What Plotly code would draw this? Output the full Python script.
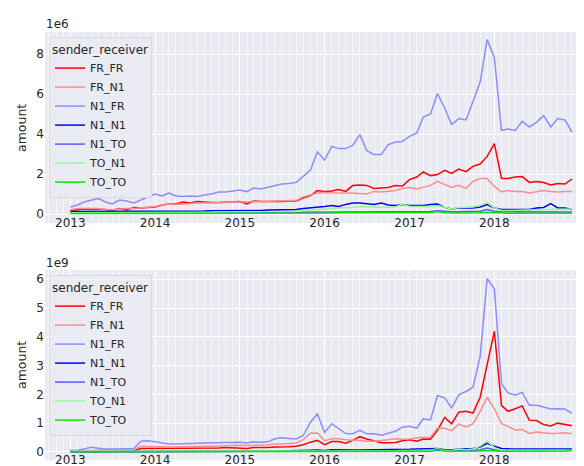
import pandas as pd
import plotly.graph_objects as go

months = pd.date_range("2013-01-01", periods=72, freq="MS")
series_names = ["FR_FR", "FR_N1", "N1_FR", "N1_N1", "N1_TO", "TO_N1", "TO_TO"]
series_colors = ["#ff0000", "#ff8c8c", "#8c8cff", "#0000ff", "#5a5aff", "#8cff8c", "#00e600"]

# ---- top panel (x 1e6) ----
FR_FR_top = [0.18,0.2,0.25,0.23,0.25,0.22,0.18,0.27,0.2,0.33,0.3,0.33,
             0.35,0.45,0.5,0.5,0.6,0.55,0.63,0.6,0.57,0.58,0.6,0.6,
             0.62,0.5,0.65,0.63,0.62,0.63,0.63,0.65,0.65,0.8,0.92,1.17,
             1.12,1.15,1.22,1.13,1.42,1.45,1.43,1.28,1.3,1.33,1.42,1.4,
             1.72,1.85,2.1,1.92,1.97,2.18,2.03,2.25,2.12,2.38,2.5,2.88,
             3.52,1.78,1.78,1.85,1.87,1.58,1.62,1.57,1.45,1.52,1.5,1.75]
FR_N1_top = [0.2,0.27,0.28,0.28,0.27,0.22,0.2,0.25,0.28,0.27,0.3,0.33,
             0.37,0.45,0.5,0.48,0.5,0.55,0.55,0.55,0.55,0.57,0.58,0.6,
             0.6,0.6,0.62,0.6,0.62,0.65,0.65,0.67,0.67,0.85,0.97,1.05,
             1.08,1.05,1.05,1.05,1.02,1.02,1.0,1.13,1.1,1.13,1.18,1.27,
             1.33,1.25,1.33,1.43,1.63,1.47,1.33,1.43,1.28,1.63,1.77,1.77,
             1.38,1.1,1.18,1.13,1.12,1.05,1.13,1.18,1.13,1.1,1.13,1.13]
N1_FR_top = [0.35,0.45,0.6,0.7,0.78,0.6,0.5,0.7,0.65,0.55,0.7,0.85,
             1.0,0.9,1.05,0.9,0.88,0.9,0.87,0.95,1.0,1.1,1.1,1.15,
             1.2,1.12,1.3,1.25,1.33,1.43,1.5,1.53,1.58,1.88,2.2,3.1,
             2.7,3.38,3.27,3.27,3.43,3.97,3.17,2.97,2.97,3.47,3.6,3.63,
             3.88,4.05,4.85,5.0,6.02,5.3,4.47,4.77,4.7,5.63,6.6,8.72,
             7.83,4.18,4.25,4.18,4.63,4.35,4.58,4.92,4.35,4.77,4.7,4.1]
N1_N1_top = [0.12,0.12,0.13,0.13,0.13,0.13,0.12,0.13,0.13,0.14,0.14,0.15,
             0.15,0.15,0.15,0.14,0.13,0.14,0.15,0.15,0.16,0.16,0.17,0.17,
             0.17,0.17,0.18,0.18,0.2,0.2,0.2,0.2,0.22,0.27,0.3,0.35,
             0.38,0.43,0.38,0.48,0.55,0.55,0.5,0.47,0.55,0.45,0.43,0.47,
             0.43,0.43,0.43,0.47,0.5,0.33,0.25,0.3,0.3,0.3,0.35,0.47,
             0.3,0.22,0.22,0.22,0.22,0.22,0.3,0.33,0.52,0.3,0.3,0.22]
N1_TO_top = [0.05,0.05,0.05,0.05,0.05,0.05,0.05,0.05,0.06,0.06,0.06,0.06,
             0.06,0.06,0.06,0.06,0.06,0.06,0.07,0.07,0.07,0.07,0.07,0.07,
             0.07,0.07,0.07,0.08,0.08,0.08,0.08,0.08,0.08,0.09,0.09,0.1,
             0.1,0.1,0.1,0.1,0.11,0.11,0.11,0.11,0.11,0.12,0.12,0.12,
             0.12,0.12,0.12,0.12,0.16,0.12,0.11,0.11,0.12,0.12,0.14,0.22,
             0.14,0.11,0.11,0.11,0.11,0.11,0.11,0.11,0.12,0.12,0.12,0.1]
TO_N1_top = [0.06,0.06,0.06,0.07,0.07,0.07,0.07,0.07,0.07,0.08,0.08,0.08,
             0.08,0.08,0.08,0.08,0.08,0.08,0.09,0.09,0.09,0.1,0.1,0.1,
             0.1,0.1,0.1,0.11,0.11,0.12,0.12,0.12,0.13,0.17,0.2,0.25,
             0.28,0.28,0.3,0.3,0.33,0.38,0.35,0.35,0.33,0.35,0.35,0.5,
             0.38,0.38,0.37,0.38,0.43,0.35,0.25,0.33,0.33,0.35,0.42,0.58,
             0.3,0.18,0.18,0.19,0.2,0.2,0.22,0.23,0.22,0.24,0.25,0.25]
TO_TO_top = [0.02,0.02,0.02,0.02,0.02,0.02,0.02,0.02,0.02,0.03,0.03,0.03,
             0.03,0.03,0.03,0.03,0.03,0.03,0.03,0.03,0.03,0.03,0.03,0.04,
             0.04,0.04,0.04,0.04,0.04,0.04,0.04,0.04,0.04,0.05,0.05,0.05,
             0.05,0.05,0.06,0.06,0.06,0.06,0.06,0.06,0.06,0.06,0.07,0.07,
             0.07,0.07,0.07,0.07,0.12,0.06,0.05,0.05,0.05,0.06,0.06,0.09,
             0.06,0.04,0.04,0.04,0.04,0.04,0.03,0.03,0.04,0.04,0.04,0.04]

# ---- bottom panel (x 1e9) ----
FR_FR_bot = [0.02,0.03,0.04,0.05,0.05,0.05,0.05,0.05,0.05,0.05,0.12,0.12,
             0.12,0.12,0.13,0.12,0.13,0.13,0.13,0.14,0.14,0.14,0.15,0.14,
             0.14,0.12,0.15,0.14,0.15,0.17,0.17,0.18,0.2,0.25,0.34,0.4,
             0.25,0.36,0.36,0.3,0.4,0.53,0.45,0.39,0.32,0.32,0.33,0.39,
             0.42,0.37,0.45,0.44,0.75,1.2,0.98,1.38,1.41,1.35,1.9,3.03,
             4.19,1.61,1.41,1.5,1.6,1.1,1.09,0.95,0.9,1.0,0.95,0.91]
FR_N1_bot = [0.03,0.04,0.05,0.06,0.06,0.06,0.06,0.06,0.06,0.07,0.2,0.2,
             0.18,0.18,0.17,0.18,0.18,0.19,0.19,0.2,0.2,0.21,0.22,0.22,
             0.23,0.22,0.24,0.24,0.25,0.28,0.28,0.3,0.31,0.43,0.65,0.66,
             0.39,0.46,0.46,0.42,0.42,0.4,0.37,0.37,0.4,0.43,0.46,0.44,
             0.45,0.49,0.51,0.51,0.83,0.82,0.74,0.97,0.87,0.98,1.41,1.9,
             1.5,0.98,0.89,0.76,0.78,0.64,0.69,0.66,0.64,0.65,0.67,0.63]
N1_FR_bot = [0.05,0.06,0.1,0.16,0.13,0.1,0.1,0.1,0.11,0.12,0.37,0.39,
             0.35,0.31,0.28,0.28,0.28,0.3,0.3,0.31,0.32,0.32,0.33,0.35,
             0.34,0.31,0.35,0.34,0.35,0.46,0.49,0.47,0.45,0.57,1.03,1.32,
             0.68,0.98,0.81,0.64,0.63,0.75,0.63,0.63,0.58,0.66,0.72,0.86,
             0.89,0.83,1.15,1.11,1.96,1.88,1.53,1.98,2.1,2.25,3.32,6.02,
             5.67,2.36,2.05,1.97,2.07,1.62,1.62,1.56,1.49,1.5,1.49,1.34]
N1_N1_bot = [0.01,0.01,0.01,0.01,0.01,0.01,0.01,0.01,0.01,0.01,0.02,0.02,
             0.02,0.02,0.02,0.02,0.02,0.02,0.02,0.02,0.02,0.02,0.03,0.03,
             0.03,0.03,0.03,0.03,0.03,0.03,0.03,0.04,0.04,0.05,0.06,0.07,
             0.05,0.08,0.07,0.07,0.07,0.07,0.07,0.07,0.07,0.08,0.08,0.09,
             0.09,0.1,0.1,0.1,0.12,0.08,0.07,0.1,0.1,0.12,0.17,0.3,
             0.2,0.12,0.11,0.11,0.1,0.1,0.1,0.1,0.1,0.1,0.1,0.1]
N1_TO_bot = [0.01,0.01,0.01,0.01,0.01,0.01,0.01,0.01,0.01,0.01,0.01,0.01,
             0.01,0.01,0.01,0.01,0.01,0.01,0.01,0.01,0.01,0.01,0.01,0.01,
             0.01,0.01,0.01,0.01,0.02,0.02,0.02,0.02,0.02,0.02,0.03,0.03,
             0.03,0.03,0.03,0.03,0.03,0.03,0.03,0.03,0.03,0.03,0.03,0.03,
             0.03,0.03,0.03,0.03,0.06,0.04,0.03,0.04,0.04,0.05,0.08,0.14,
             0.08,0.04,0.04,0.04,0.04,0.04,0.04,0.04,0.04,0.04,0.04,0.05]
TO_N1_bot = [0.02,0.02,0.02,0.02,0.02,0.02,0.02,0.02,0.02,0.02,0.02,0.02,
             0.02,0.02,0.02,0.02,0.02,0.02,0.02,0.02,0.02,0.02,0.02,0.02,
             0.02,0.02,0.02,0.02,0.03,0.03,0.03,0.03,0.03,0.03,0.04,0.04,
             0.04,0.04,0.04,0.04,0.04,0.04,0.04,0.04,0.04,0.04,0.04,0.05,
             0.05,0.05,0.05,0.05,0.12,0.05,0.04,0.1,0.08,0.1,0.2,0.38,
             0.15,0.05,0.05,0.05,0.05,0.04,0.04,0.04,0.04,0.04,0.04,0.06]
TO_TO_bot = [0.01,0.01,0.01,0.01,0.01,0.01,0.01,0.01,0.01,0.01,0.01,0.01,
             0.01,0.01,0.01,0.01,0.01,0.01,0.01,0.01,0.01,0.01,0.01,0.01,
             0.01,0.01,0.01,0.01,0.01,0.01,0.01,0.01,0.01,0.01,0.02,0.02,
             0.02,0.02,0.02,0.02,0.02,0.02,0.02,0.02,0.02,0.02,0.02,0.02,
             0.02,0.02,0.02,0.02,0.1,0.03,0.02,0.02,0.02,0.03,0.03,0.05,
             0.03,0.02,0.02,0.02,0.02,0.02,0.02,0.02,0.02,0.02,0.03,0.06]

top_series = [FR_FR_top, FR_N1_top, N1_FR_top, N1_N1_top, N1_TO_top, TO_N1_top, TO_TO_top]
bot_series = [FR_FR_bot, FR_N1_bot, N1_FR_bot, N1_N1_bot, N1_TO_bot, TO_N1_bot, TO_TO_bot]

W, H = 584, 466
def px_x(p): return p / W
def px_y(p): return 1 - p / H

fig = go.Figure()
for name, col, vals in zip(series_names, series_colors, top_series):
    fig.add_trace(go.Scatter(x=months, y=vals, mode="lines", name=name,
                             line=dict(color=col, width=1.5),
                             xaxis="x", yaxis="y", legend="legend"))
for name, col, vals in zip(series_names, series_colors, bot_series):
    fig.add_trace(go.Scatter(x=months, y=vals, mode="lines", name=name,
                             line=dict(color=col, width=1.5),
                             xaxis="x2", yaxis="y2", legend="legend2"))

FONT = "DejaVu Sans"
TXT = "#262626"
BG = "#EAEAF2"

xaxis_common = dict(
    type="date", range=["2012-09-14", "2019-02-17"],
    tick0="2013-01-01", dtick="M12", tickformat="%Y",
    showgrid=True, gridcolor="white", gridwidth=1,
    zeroline=False, showline=False, ticks="",
    ticklabelstandoff=-9,
    tickfont=dict(family=FONT, size=12, color=TXT),
    minor=dict(tick0="2013-01-01", dtick="M1", showgrid=True,
               gridcolor="rgba(255,255,255,0.55)", gridwidth=0.6, ticks=""),
    domain=[px_x(37), px_x(582)],
)
yaxis_common = dict(
    showgrid=True, gridcolor="white", gridwidth=1, zeroline=False,
    showline=False, ticks="", tickfont=dict(family=FONT, size=12, color=TXT),
)

legend_common = dict(
    x=px_x(41), xanchor="left", bgcolor="rgba(234,234,242,0.8)",
    bordercolor="rgba(215,215,225,0.9)", borderwidth=1,
    font=dict(family=FONT, size=11, color=TXT),
    title=dict(text="sender_receiver", font=dict(family=FONT, size=12, color=TXT)),
    tracegroupgap=0, itemwidth=30,
)

fig.update_layout(
    width=W, height=H, margin=dict(l=0, r=0, t=0, b=0),
    paper_bgcolor="white", plot_bgcolor=BG,
    font=dict(family=FONT, color=TXT),
    xaxis=dict(**xaxis_common, anchor="y"),
    xaxis2=dict(**xaxis_common, anchor="y2"),
    yaxis=dict(**yaxis_common, range=[-0.45, 9.1], tickvals=[0, 2, 4, 6, 8],
               domain=[px_y(215), px_y(24)], anchor="x"),
    yaxis2=dict(**yaxis_common, range=[-0.28, 6.32], tickvals=[0, 1, 2, 3, 4, 5, 6],
                domain=[px_y(452), px_y(262)], anchor="x2"),
    legend=dict(**legend_common, y=px_y(29), yanchor="top"),
    legend2=dict(**legend_common, y=px_y(267), yanchor="top"),
    annotations=[
        dict(text="1e6", x=px_x(36), y=px_y(16), xref="paper", yref="paper",
             xanchor="left", yanchor="middle", showarrow=False,
             font=dict(family=FONT, size=12, color=TXT)),
        dict(text="1e9", x=px_x(36), y=px_y(255), xref="paper", yref="paper",
             xanchor="left", yanchor="middle", showarrow=False,
             font=dict(family=FONT, size=12, color=TXT)),
        dict(text="amount", x=px_x(13), y=px_y(120), xref="paper", yref="paper",
             xanchor="center", yanchor="middle", textangle=-90, showarrow=False,
             font=dict(family=FONT, size=12.5, color=TXT)),
        dict(text="amount", x=px_x(13), y=px_y(357), xref="paper", yref="paper",
             xanchor="center", yanchor="middle", textangle=-90, showarrow=False,
             font=dict(family=FONT, size=12.5, color=TXT)),
    ],
)

fig.write_html("out.html")
